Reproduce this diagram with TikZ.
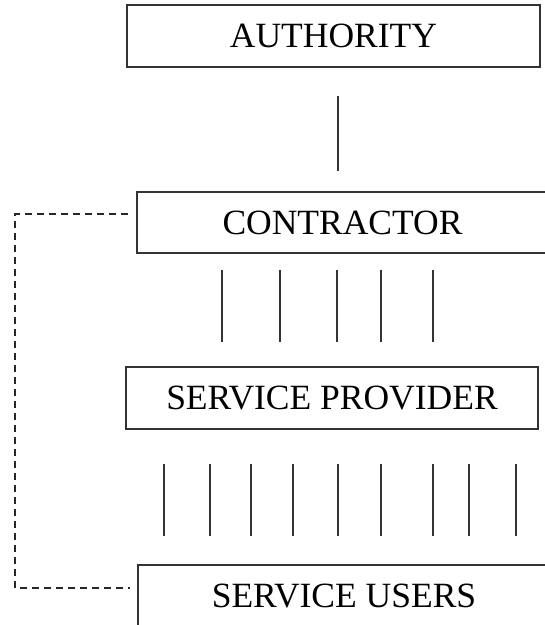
\documentclass[tikz,border=0pt]{standalone}
\usepackage{fontspec}
\setmainfont{Liberation Serif}
\begin{document}
\begin{tikzpicture}[x=1pt,y=-1pt,
  level/.style={draw=black!80, line width=1.8pt, rectangle, inner sep=0pt,
    font=\fontsize{35.5}{40}\selectfont, text=black},
  link/.style={draw=black!80, line width=1.6pt},
  dashlink/.style={draw=black!85, line width=1.5pt, dash pattern=on 7pt off 5pt}]
\useasboundingbox (0,0) rectangle (545,625);
\clip (0,0) rectangle (545,625);
\fill[white] (0,0) rectangle (545,625);

% the four levels of the hierarchy
\node[level, minimum width=413pt, minimum height=62pt] (authority) at (333.5,36) {AUTHORITY};
\node[level, minimum width=411pt, minimum height=61pt] (contractor) at (342.5,222.5) {CONTRACTOR};
\node[level, minimum width=412pt, minimum height=62pt] (provider) at (332,398) {SERVICE PROVIDER};
\node[level, minimum width=412pt, minimum height=62pt] (users) at (344,596) {SERVICE USERS};

% authority -- contractor
\coordinate (xa) at (338,0);
\draw[link, shorten <=28pt, shorten >=20pt] (authority.south -| xa) -- (contractor.north -| xa);

% contractor -- service provider
\foreach \x in {222,280,337,381,433}{
  \coordinate (xc) at (\x,0);
  \draw[link, shorten <=16pt, shorten >=24pt] (contractor.south -| xc) -- (provider.north -| xc);
}

% service provider -- service users
\foreach \x in {164,210,251,293,338,381,433,469,516}{
  \coordinate (xs) at (\x,0);
  \draw[link, shorten <=34pt, shorten >=28pt] (provider.south -| xs) -- (users.north -| xs);
}

% dashed link between contractor and service users
\coordinate (xd) at (15,0);
\coordinate (c1) at ([yshift=8.5pt]contractor.west);
\coordinate (u1) at ([yshift=8pt]users.west);
\draw[dashlink, shorten <=8pt, shorten >=7pt] (c1) -- (c1 -| xd) -- (u1 -| xd) -- (u1);
\end{tikzpicture}
\end{document}
